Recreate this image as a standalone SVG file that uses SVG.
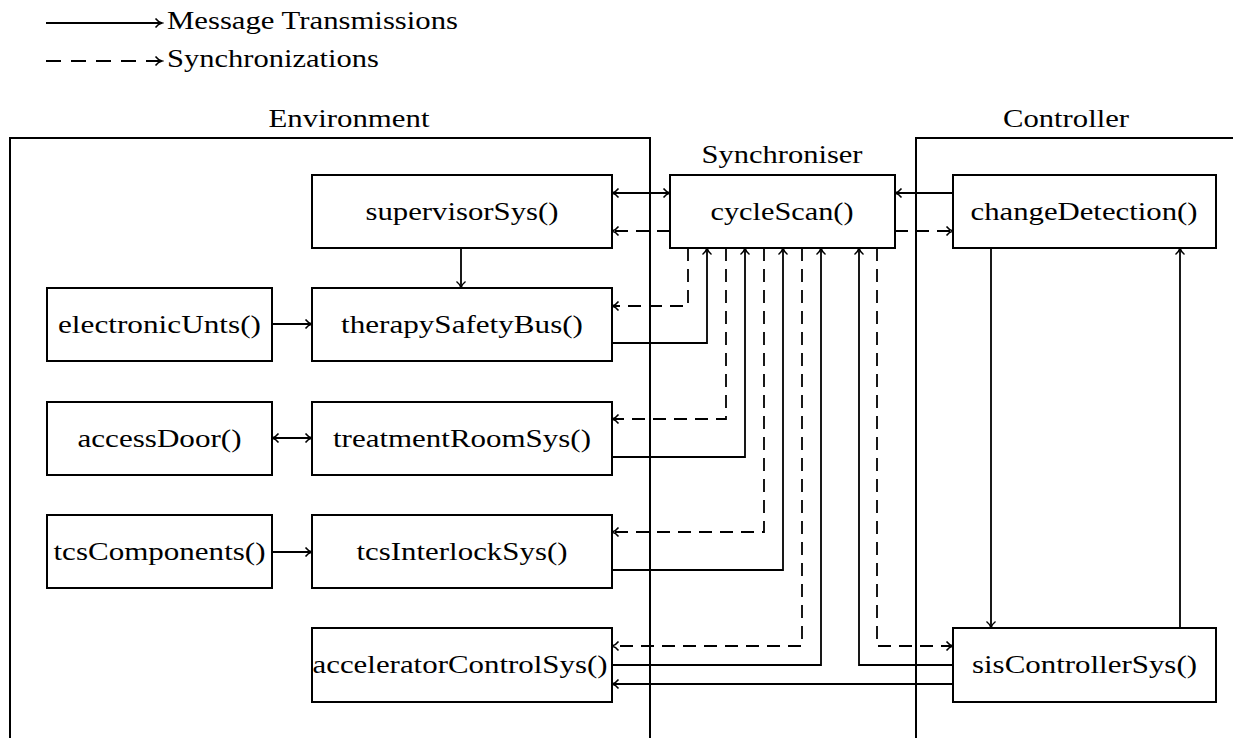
<svg xmlns="http://www.w3.org/2000/svg" width="1233" height="738" viewBox="0 0 1233 738">
<style>
text{font-family:"Liberation Serif","Times New Roman",serif;font-size:26px;fill:#000;}
.lbl{text-anchor:middle;}
.box{fill:#fff;stroke:#000;stroke-width:2;}
.frame{fill:none;stroke:#000;stroke-width:2;}
.c{fill:none;stroke:#000;stroke-width:1.8;marker-end:url(#ah);}
.d{stroke-dasharray:13 8;}
.bi{marker-start:url(#ah);}
</style>
<defs>
<marker id="ah" markerUnits="userSpaceOnUse" viewBox="-8 -6 10 12" refX="0" refY="0" markerWidth="10" markerHeight="12" orient="auto-start-reverse">
<path d="M-6.5,-4.5 C-4.5,-1.8 -1.5,-0.4 0,0 C-1.5,0.4 -4.5,1.8 -6.5,4.5" fill="none" stroke="#000" stroke-width="1.5" stroke-dasharray="none"/>
</marker>
</defs>
<g id="legend">
<path class="c" d="M46,23 H162"/>
<path class="c d" d="M46,61 H162" style="stroke-dasharray:15 10"/>
<text x="167" y="29" textLength="291" lengthAdjust="spacingAndGlyphs">Message Transmissions</text>
<text x="167" y="67" textLength="212" lengthAdjust="spacingAndGlyphs">Synchronizations</text>
</g>
<g id="frames">
<path class="frame" d="M10,740 V138 H650 V740"/>
<path class="frame" d="M916,740 V138 H1240"/>
<text class="lbl" x="349" y="127" textLength="161" lengthAdjust="spacingAndGlyphs">Environment</text>
<text class="lbl" x="782" y="163" textLength="161" lengthAdjust="spacingAndGlyphs">Synchroniser</text>
<text class="lbl" x="1066" y="127" textLength="126" lengthAdjust="spacingAndGlyphs">Controller</text>
</g>
<g id="connectors">
<path class="c bi" d="M612,193 H670"/>
<path class="c d" d="M670,231 H612"/>
<path class="c" d="M953,193 H895"/>
<path class="c d" d="M895,231 H953"/>
<path class="c" d="M461,248 V288"/>
<path class="c" d="M272,324 H312"/>
<path class="c bi" d="M272,438 H312"/>
<path class="c" d="M272,552 H312"/>
<path class="c d" d="M688,248 V306 H612"/>
<path class="c" d="M612,343 H707 V248"/>
<path class="c d" d="M726,248 V419 H612"/>
<path class="c" d="M612,457 H745 V248"/>
<path class="c d" d="M764,248 V532 H612"/>
<path class="c" d="M612,570 H783 V248"/>
<path class="c d" d="M802,248 V646 H612"/>
<path class="c" d="M612,665 H821 V248"/>
<path class="c d" d="M877,248 V646 H953"/>
<path class="c" d="M953,665 H859 V248"/>
<path class="c" d="M953,684 H612"/>
<path class="c" d="M991,248 V628"/>
<path class="c" d="M1180,628 V248"/>
</g>
<g id="supervisorSys"><rect class="box" x="312" y="175" width="300" height="73"/><text class="lbl" x="462" y="220" textLength="193" lengthAdjust="spacingAndGlyphs">supervisorSys()</text></g>
<g id="cycleScan"><rect class="box" x="670" y="175" width="225" height="73"/><text class="lbl" x="782" y="220" textLength="143" lengthAdjust="spacingAndGlyphs">cycleScan()</text></g>
<g id="changeDetection"><rect class="box" x="953" y="175" width="263" height="73"/><text class="lbl" x="1084" y="220" textLength="227" lengthAdjust="spacingAndGlyphs">changeDetection()</text></g>
<g id="electronicUnts"><rect class="box" x="47" y="288" width="225" height="73"/><text class="lbl" x="159.5" y="333" textLength="203" lengthAdjust="spacingAndGlyphs">electronicUnts()</text></g>
<g id="therapySafetyBus"><rect class="box" x="312" y="288" width="300" height="73"/><text class="lbl" x="462" y="333" textLength="242" lengthAdjust="spacingAndGlyphs">therapySafetyBus()</text></g>
<g id="accessDoor"><rect class="box" x="47" y="402" width="225" height="73"/><text class="lbl" x="159.5" y="447" textLength="164" lengthAdjust="spacingAndGlyphs">accessDoor()</text></g>
<g id="treatmentRoomSys"><rect class="box" x="312" y="402" width="300" height="73"/><text class="lbl" x="462" y="447" textLength="258" lengthAdjust="spacingAndGlyphs">treatmentRoomSys()</text></g>
<g id="tcsComponents"><rect class="box" x="47" y="515" width="225" height="73"/><text class="lbl" x="159.5" y="560" textLength="212" lengthAdjust="spacingAndGlyphs">tcsComponents()</text></g>
<g id="tcsInterlockSys"><rect class="box" x="312" y="515" width="300" height="73"/><text class="lbl" x="462" y="560" textLength="211" lengthAdjust="spacingAndGlyphs">tcsInterlockSys()</text></g>
<g id="acceleratorControlSys"><rect class="box" x="312" y="628" width="300" height="74"/><text class="lbl" x="460" y="673" textLength="295" lengthAdjust="spacingAndGlyphs">acceleratorControlSys()</text></g>
<g id="sisControllerSys"><rect class="box" x="953" y="628" width="263" height="74"/><text class="lbl" x="1084.5" y="673" textLength="225" lengthAdjust="spacingAndGlyphs">sisControllerSys()</text></g>
</svg>
